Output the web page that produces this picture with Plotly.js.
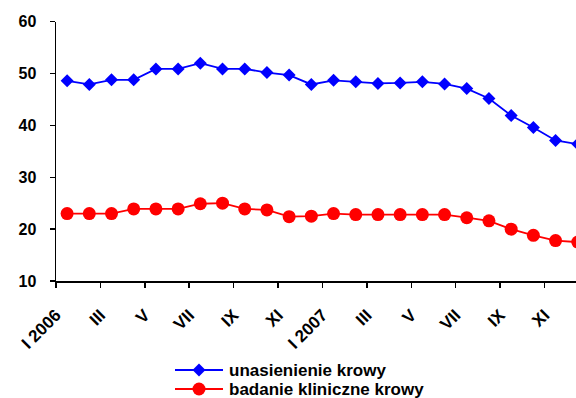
<!DOCTYPE html>
<html>
<head>
<meta charset="utf-8">
<script src="https://cdn.plot.ly/plotly-3.0.1.min.js"></script>
<style>html,body{margin:0;padding:0;background:#fff;}#chart{width:576px;height:398px;}</style>
</head>
<body>
<div id="chart"></div>
<script>
// month index 0..23 (I 2006 .. XII 2007)
var months = [0,1,2,3,4,5,6,7,8,9,10,11,12,13,14,15,16,17,18,19,20,21,22,23];
var unasienienie = [48.6,47.9,48.8,48.8,50.9,50.9,52.0,50.9,50.9,50.2,49.7,47.9,48.7,48.4,48.1,48.2,48.4,48.0,47.1,45.2,41.9,39.6,37.1,36.4];
var badanie = [23.0,23.0,23.0,23.9,23.9,23.9,24.9,25.0,23.9,23.7,22.4,22.5,23.0,22.8,22.8,22.8,22.8,22.8,22.2,21.6,20.0,18.8,17.8,17.5];
var tickPos = [-0.5,1.5,3.5,5.5,7.5,9.5,11.5,13.5,15.5,17.5,19.5,21.5];
var tickLabels = ["I 2006","III","V","VII","IX","XI","I 2007","III","V","VII","IX","XI"];
var names = ["unasienienie krowy","badanie kliniczne krowy"];
var colors = ["#0000FF","#FF0000"];

var fam = "Liberation Sans, Arial, sans-serif";
var bold = {family:fam, size:16, color:"#000", weight:700};
var boldX = {family:fam, size:17, color:"#000", weight:700};

var traces = [
  {x:months, y:unasienienie, name:names[0], mode:"lines+markers", type:"scatter",
   line:{color:colors[0], width:1.8}, marker:{symbol:"diamond", size:10, color:colors[0]}},
  {x:months, y:badanie, name:names[1], mode:"lines+markers", type:"scatter",
   line:{color:colors[1], width:1.8}, marker:{symbol:"circle", size:13, color:colors[1]}}
];

var W = 576, H = 398;
function px(x){return x/W;}
function py(y){return 1 - y/H;}

// legend (drawn as shapes + annotations)
var legRows = [370, 389];
var legX0 = 175, legX1 = 223, legM = 199, legText = 228;
var shapes = [], annotations = [];
legRows.forEach(function(ry, i){
  shapes.push({type:"line", xref:"paper", yref:"paper", x0:px(legX0), x1:px(legX1), y0:py(ry), y1:py(ry),
               line:{color:colors[i], width:1.8}});
  annotations.push({xref:"paper", yref:"paper", x:px(legText), y:py(ry), xanchor:"left", yanchor:"middle",
                    text:names[i], showarrow:false, borderpad:0,
                    font:{family:fam, size:17, color:"#000", weight:700}});
});
var r = 6.5;
shapes.push({type:"path", xref:"paper", yref:"paper", fillcolor:colors[0], line:{width:0},
  path:"M"+px(legM-r)+","+py(legRows[0])+" L"+px(legM)+","+py(legRows[0]-r)+" L"+px(legM+r)+","+py(legRows[0])+" L"+px(legM)+","+py(legRows[0]+r)+" Z"});
shapes.push({type:"circle", xref:"paper", yref:"paper", fillcolor:colors[1], line:{width:0},
  x0:px(legM-r), x1:px(legM+r), y0:py(legRows[1]+r), y1:py(legRows[1]-r)});

var layout = {
  width:W, height:H,
  margin:{l:0, r:0, t:0, b:0, pad:0},
  paper_bgcolor:"#fff", plot_bgcolor:"#fff",
  font:bold,
  showlegend:false,
  shapes:shapes, annotations:annotations,
  xaxis:{domain:[56/W, 1], range:[-0.5,22.92], tickmode:"array", tickvals:tickPos, ticktext:tickLabels, automargin:false,
         tickangle:-45, ticks:"outside", ticklen:5, tickwidth:1.5, tickcolor:"#000",
         showline:true, linecolor:"#000", linewidth:1.5, showgrid:false, zeroline:false,
         tickfont:boldX, ticklabelstandoff:11},
  yaxis:{domain:[(H-281)/H, 1-21.7/H], range:[10,60], tickvals:[10,20,30,40,50,60], ticks:"outside", ticklen:5, tickwidth:1.5, tickcolor:"#000",
         showline:true, linecolor:"#000", linewidth:1.5, showgrid:false, zeroline:false, automargin:false,
         tickfont:bold, ticklabelstandoff:10}
};

Plotly.newPlot("chart", traces, layout, {displayModeBar:false, staticPlot:true});
</script>
</body>
</html>
